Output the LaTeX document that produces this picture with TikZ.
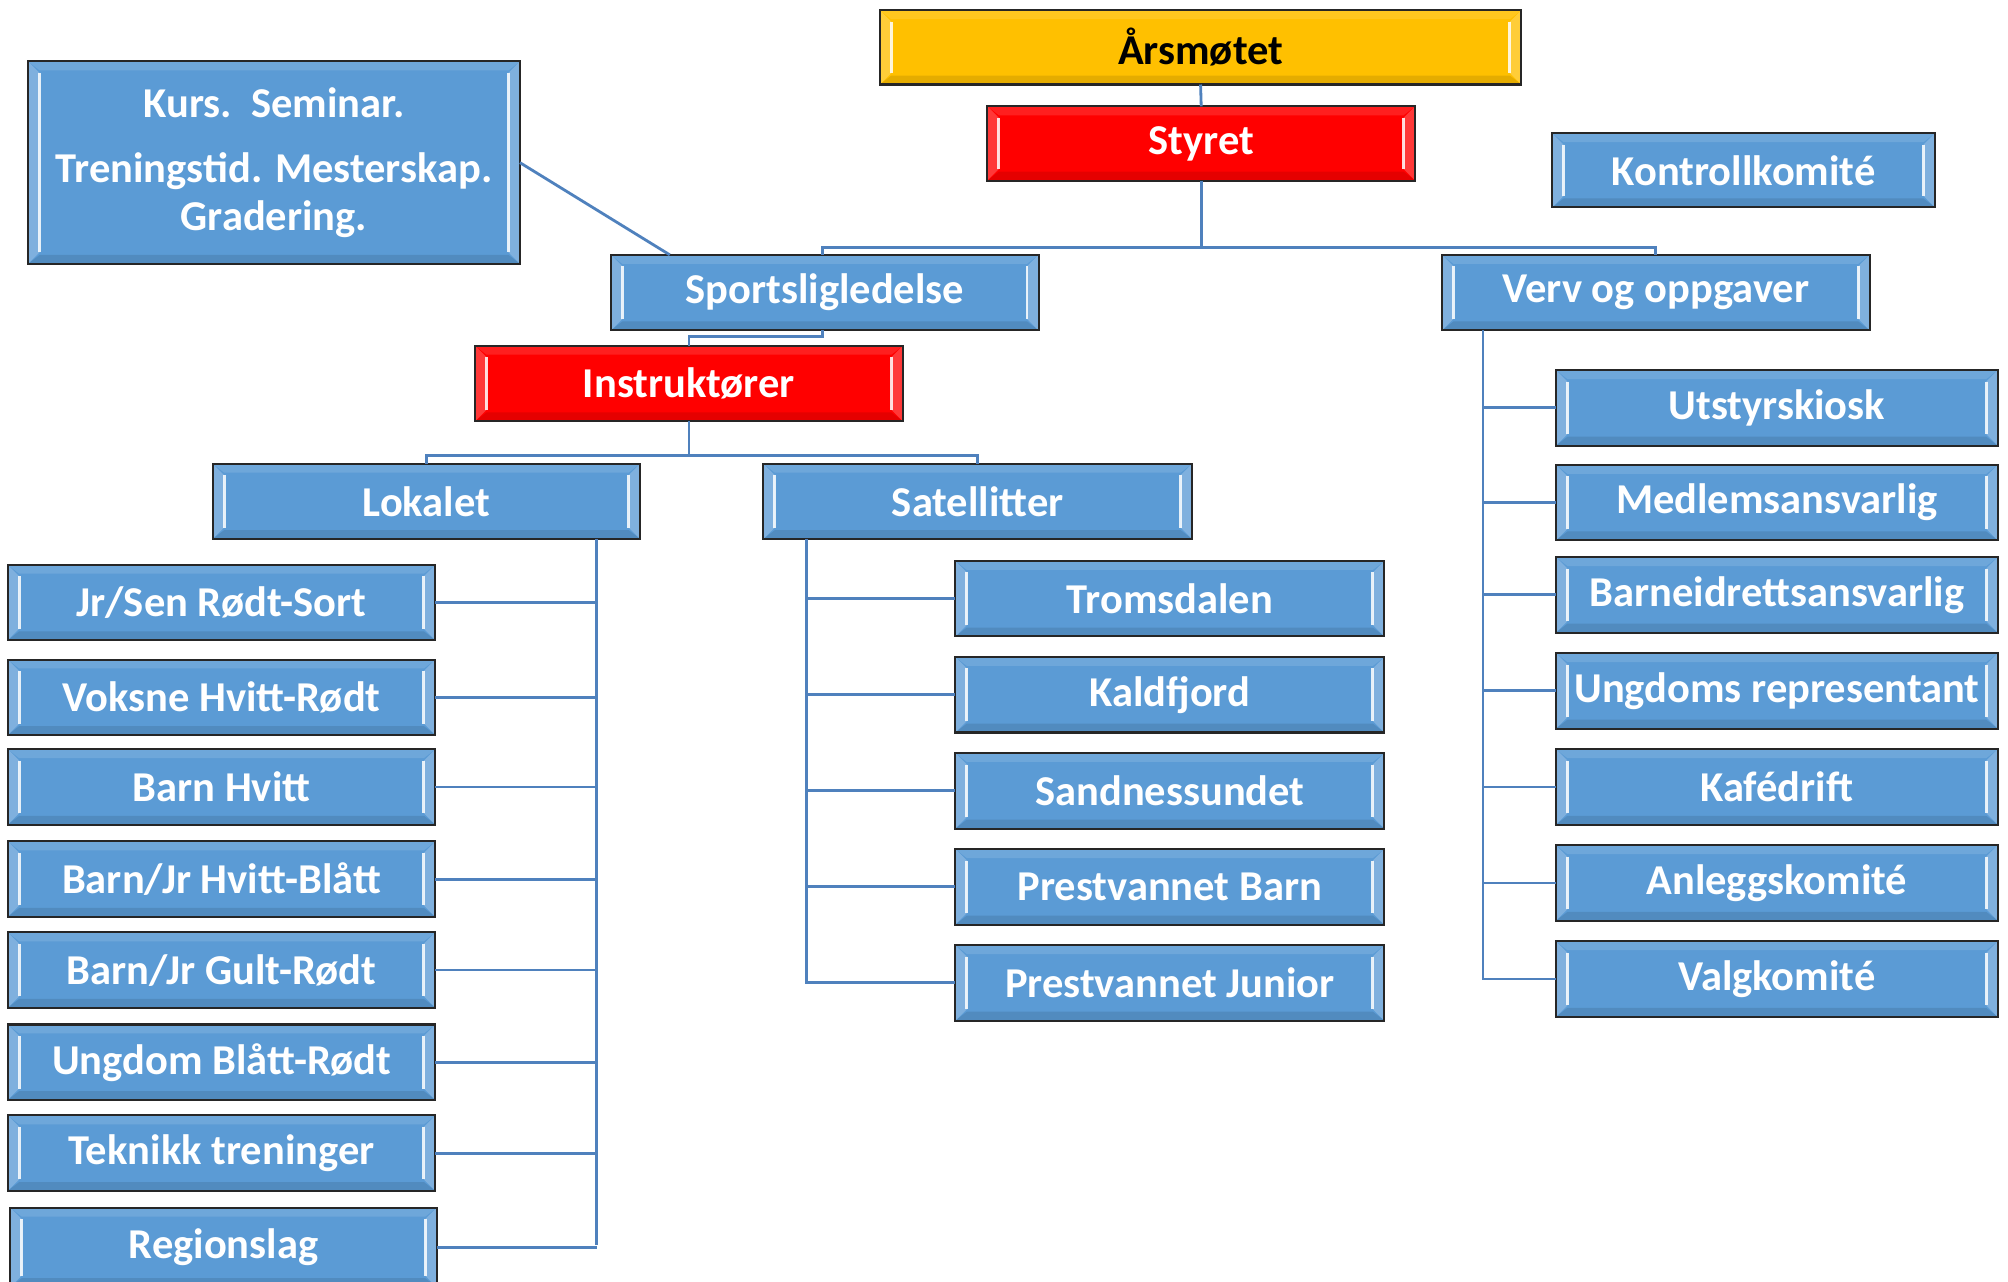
\documentclass[tikz,border=0pt]{standalone}
\usepackage{fontspec}
\setmainfont{Carlito}
\usetikzlibrary{calc}
\definecolor{boxblue}{HTML}{5B9BD5}
\definecolor{boxred}{HTML}{FF0000}
\definecolor{boxyellow}{HTML}{FFC000}
\definecolor{linkblue}{HTML}{4F81BD}
\tikzset{
  bevel/.style={path picture={
    \coordinate (pnw) at (path picture bounding box.north west);
    \coordinate (pne) at (path picture bounding box.north east);
    \coordinate (psw) at (path picture bounding box.south west);
    \coordinate (pse) at (path picture bounding box.south east);
    \fill[white,opacity=0.12] (pnw) -- (pne) -- ($(pne)+(-9,7)$) -- ($(pnw)+(9,7)$) -- cycle;
    \fill[black,opacity=0.10] (psw) -- (pse) -- ($(pse)+(-9,-7)$) -- ($(psw)+(9,-7)$) -- cycle;
    \fill[white,opacity=0.22] (pnw) -- ($(pnw)+(9,9)$) -- ($(psw)+(9,-9)$) -- (psw) -- cycle;
    \fill[white,opacity=0.22] (pne) -- ($(pne)+(-9,9)$) -- ($(pse)+(-9,-9)$) -- (pse) -- cycle;
    \draw[white,opacity=0.85,line width=1.1pt] ($(pnw)+(9,9)$) -- ($(psw)+(9,-9)$);
    \draw[white,opacity=0.85,line width=1.1pt] ($(pne)+(-9,9)$) -- ($(pse)+(-9,-9)$);
  }},
  boxbase/.style={draw=black!85, line width=0.8pt, inner sep=0pt, outer sep=0pt,
    font=\bfseries\fontsize{16.6}{18.5}\selectfont, align=center, bevel},
  bluebox/.style={boxbase, fill=boxblue, text=white},
  redbox/.style={boxbase, fill=boxred, text=white},
  yellowbox/.style={boxbase, fill=boxyellow, text=black},
  wh/.style 2 args={minimum width=#1*0.5pt, minimum height=#2*0.5pt},
  link/.style={draw=linkblue, line width=1.1pt}
}
\begin{document}
\begin{tikzpicture}[x=0.5pt,y=-0.5pt]
\useasboundingbox (0,0) rectangle (1568,1001);
% top
\node[yellowbox,wh={501}{58}] (aars) at (937.5,37) {Årsmøtet};
\node[redbox,wh={334}{58}] (styret) at (938,112) {Styret};
\node[bluebox,wh={299}{58}] (kontroll) at (1361.5,133) {Kontrollkomité};
\node[bluebox,wh={384}{158}] (kurs) at (214,127) {Kurs.\ \ Seminar.\\[7pt] Treningstid. Mesterskap.\\ Gradering.};
\node[bluebox,wh={334}{59}] (sport) at (644,228.5) {Sportsligledelse};
\node[bluebox,wh={334}{59}] (verv) at (1293,228.5) {Verv og oppgaver};
\node[redbox,wh={334}{59}] (instr) at (538,299.5) {Instruktører};
\node[bluebox,wh={334}{59}] (lokal) at (333,391.5) {Lokalet};
\node[bluebox,wh={335}{59}] (sat) at (763.5,391.5) {Satellitter};
% left column
\node[bluebox,wh={334}{59}] (l1) at (173,470.5) {Jr/Sen Rødt-Sort};
\node[bluebox,wh={334}{59}] (l2) at (173,544.5) {Voksne Hvitt-Rødt};
\node[bluebox,wh={334}{59}] (l3) at (173,614.5) {Barn Hvitt};
\node[bluebox,wh={334}{59}] (l4) at (173,686.5) {Barn/Jr Hvitt-Blått};
\node[bluebox,wh={334}{59}] (l5) at (173,757.5) {Barn/Jr Gult-Rødt};
\node[bluebox,wh={334}{59}] (l6) at (173,829.5) {Ungdom Blått-Rødt};
\node[bluebox,wh={334}{59}] (l7) at (173,900.5) {Teknikk treninger};
\node[bluebox,wh={333}{62}] (l8) at (174.5,974) {Regionslag};
% satellites
\node[bluebox,wh={335}{59}] (s1) at (913.5,467.5) {Tromsdalen};
\node[bluebox,wh={335}{59}] (s2) at (913.5,542.5) {Kaldfjord};
\node[bluebox,wh={335}{59}] (s3) at (913.5,617.5) {Sandnessundet};
\node[bluebox,wh={335}{59}] (s4) at (913.5,692.5) {Prestvannet Barn};
\node[bluebox,wh={335}{59}] (s5) at (913.5,767.5) {Prestvannet Junior};
% right column
\node[bluebox,wh={345}{59}] (r1) at (1387.5,318.5) {Utstyrskiosk};
\node[bluebox,wh={345}{59}] (r2) at (1387.5,392.5) {Medlemsansvarlig};
\node[bluebox,wh={345}{59}] (r3) at (1387.5,464.5) {Barneidrettsansvarlig};
\node[bluebox,wh={345}{59}] (r4) at (1387.5,539.5) {Ungdoms representant};
\node[bluebox,wh={345}{59}] (r5) at (1387.5,614.5) {Kafédrift};
\node[bluebox,wh={345}{59}] (r6) at (1387.5,689.5) {Anleggskomité};
\node[bluebox,wh={345}{59}] (r7) at (1387.5,764.5) {Valgkomité};
% helper coordinates
\coordinate (hub1) at (938,193);
\coordinate (sportin) at (642,199);
\coordinate (kursin) at (523,199);
\coordinate (hub2) at (642,263);
\coordinate (sportout) at (642,258);
\coordinate (hub3) at (538,356);
\coordinate (ltop) at (466,421);
\coordinate (lbot) at (466,972);
\coordinate (stop) at (630,421);
\coordinate (vtop) at (1158,258);
% connectors
\path[link] (aars.south) -- (styret.north);
\path[link] (styret.south) -- (hub1);
\path[link] (sportin) |- (hub1) -| (verv.north);
\path[link] (kurs.east) -- (kursin);
\path[link] (sportout) -- (hub2) -| (instr.north);
\path[link] (instr.south) -- (hub3);
\path[link] (lokal.north) |- (hub3) -| (sat.north);
\path[link] (ltop) -- (lbot);
\foreach \n in {l1,l2,l3,l4,l5,l6,l7,l8}{\path[link] (\n.east) -- (\n.east -| ltop);}
\path[link] (stop) |- (s5.west);
\foreach \n in {s1,s2,s3,s4}{\path[link] (\n.west) -- (\n.west -| stop);}
\path[link] (vtop) |- (r7.west);
\foreach \n in {r1,r2,r3,r4,r5,r6}{\path[link] (\n.west) -- (\n.west -| vtop);}
\end{tikzpicture}
\end{document}
